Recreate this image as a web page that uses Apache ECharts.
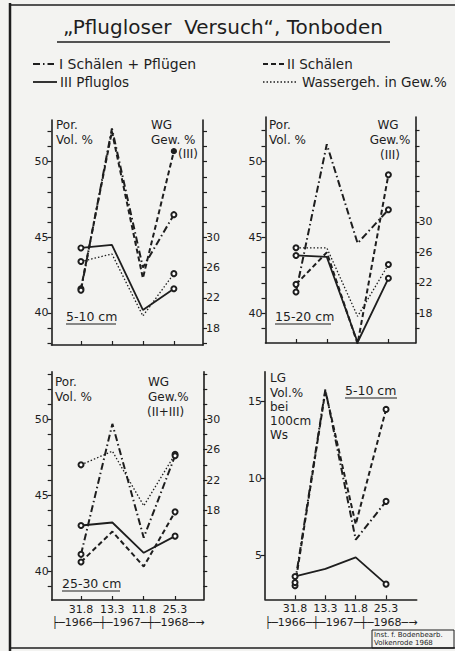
<!DOCTYPE html>
<html><head><meta charset="utf-8">
<script src="https://cdn.jsdelivr.net/npm/echarts@6/dist/echarts.min.js"></script>
<style>html,body{margin:0;padding:0;background:#f3f3f1}#c{width:455px;height:651px}</style>
</head><body><div id="c"></div>
<script>
// ---- data ----
const categories = ['31.8', '13.3', '11.8', '25.3'];
const yearRow = '├─1966─┼─1967─┼─1968─→';
// Panel 1: 5-10 cm (Por. Vol.% left, WG Gew.% right)
const p1_I   = [41.5, 52.2, 43.0, 46.5];
const p1_II  = [41.6, 52.0, 42.3, 50.7];
const p1_III = [44.3, 44.5, 40.2, 41.6];
const p1_WG  = [26.8, 27.8, 19.6, 25.2];
// Panel 2: 15-20 cm
const p2_I   = [41.4, 51.1, 44.6, 46.8];
const p2_II  = [41.9, 44.0, 38.0, 49.1];
const p2_III = [43.8, 43.7, 38.1, 42.3];
const p2_WG  = [26.6, 26.6, 17.6, 24.4];
// Panel 3: 25-30 cm
const p3_I   = [41.1, 49.7, 42.2, 47.6];
const p3_II  = [40.6, 42.6, 40.3, 43.9];
const p3_III = [43.0, 43.2, 41.2, 42.3];
const p3_WG  = [24.0, 25.8, 18.6, 25.4];
// Panel 4: LG Vol.% bei 100 cm Ws, 5-10 cm
const p4_I   = [3.2, 15.8, 6.0, 8.5];
const p4_II  = [3.0, 15.7, 7.0, 14.5];
const p4_III = [3.6, 4.1, 4.85, 3.1];

// ---- styles ----
const INK = '#1e1e1e';
const FONT = 'DejaVu Sans';
const styles = {
  I:   {type: [7, 3, 1.5, 3], width: 2},
  II:  {type: [5, 3], width: 2},
  III: {type: 'solid', width: 1.8},
  WG:  {type: [1.5, 2], width: 1.3}
};

function pts(arr, filledLast) {
  return arr.map((v, i) => {
    const end = (i === 0 || i === arr.length - 1);
    return {
      value: [i, v],
      symbol: end ? ((filledLast && i === arr.length - 1) ? 'circle' : 'emptyCircle') : 'none'
    };
  });
}
function ser(name, arr, xi, yi, key, filledLast) {
  return {
    name: name, type: 'line', xAxisIndex: xi, yAxisIndex: yi,
    data: pts(arr, filledLast), symbolSize: 5, silent: true, animation: false,
    lineStyle: {color: INK, width: styles[key].width, type: styles[key].type},
    itemStyle: {color: INK, borderColor: INK, borderWidth: 1.2}
  };
}
function range(a, b, s) { const r = []; for (let v = a; v <= b + 1e-9; v += s) r.push(v); return r; }

const grids = [
  {left: 51.5, top: 120, width: 151.5, height: 225},
  {left: 265.5, top: 117, width: 150, height: 226},
  {left: 51.7, top: 371.7, width: 151.6, height: 228.3},
  {left: 265, top: 371.7, width: 151.7, height: 227.6}
];
const xr = [[-0.95, 3.94], [-0.99, 3.88], [-0.935, 3.9], [-0.99, 4.01]];
const xAxes = grids.map((g, i) => ({
  type: 'value', gridIndex: i, min: xr[i][0], max: xr[i][1],
  axisLine: {show: true, onZero: false, lineStyle: {color: INK, width: 1.6}},
  splitLine: {show: false},
  axisTick: {show: true, inside: true, length: 4, customValues: [0, 1, 2, 3], lineStyle: {color: INK, width: 1.2}},
  axisLabel: {show: i >= 2, customValues: [0, 1, 2, 3], formatter: v => categories[Math.round(v)],
              color: INK, fontFamily: FONT, fontSize: 11, margin: 4}
}));
function yAx(gi, min, max, ticks, labels, pos) {
  return {
    type: 'value', gridIndex: gi, min: min, max: max, position: pos,
    axisLine: {show: true, onZero: false, lineStyle: {color: INK, width: 1.6}},
    splitLine: {show: false},
    axisTick: {show: true, length: 4, customValues: ticks, lineStyle: {color: INK, width: 1.2}},
    axisLabel: {customValues: labels, color: INK, fontFamily: FONT, fontSize: 11, margin: 3}
  };
}
const yAxes = [
  yAx(0, 37.88, 52.76, range(38, 52, 1), [40, 45, 50], 'left'),
  yAx(0, 15.76, 45.52, range(16, 44, 2), [18, 22, 26, 30], 'right'),
  yAx(1, 38.05, 52.89, range(39, 52, 1), [40, 45, 50], 'left'),
  yAx(1, 14.1, 43.78, range(16, 42, 2), [18, 22, 26, 30], 'right'),
  yAx(2, 38.09, 53.14, range(39, 53, 1), [40, 45, 50], 'left'),
  yAx(2, 6.18, 36.28, range(8, 36, 2), [18, 22, 26, 30], 'right'),
  yAx(3, 2.11, 16.96, [5, 10, 15], [5, 10, 15], 'left')
];

const series = [
  ser('WG', p1_WG, 0, 1, 'WG'), ser('III', p1_III, 0, 0, 'III'), ser('II', p1_II, 0, 0, 'II', true), ser('I', p1_I, 0, 0, 'I'),
  ser('WG', p2_WG, 1, 3, 'WG'), ser('III', p2_III, 1, 2, 'III'), ser('II', p2_II, 1, 2, 'II'), ser('I', p2_I, 1, 2, 'I'),
  ser('WG', p3_WG, 2, 5, 'WG'), ser('III', p3_III, 2, 4, 'III'), ser('II', p3_II, 2, 4, 'II'), ser('I', p3_I, 2, 4, 'I'),
  ser('III', p4_III, 3, 6, 'III'), ser('II', p4_II, 3, 6, 'II'), ser('I', p4_I, 3, 6, 'I')
];

function txt(x, y, s, size, align, extra) {
  return Object.assign({type: 'text', x: x, y: y, silent: true,
    style: {text: s, fill: INK, font: size + 'px "' + FONT + '"', textAlign: align || 'left', textVerticalAlign: 'middle'}}, extra || {});
}
function ln(x1, y1, x2, y2, w, dash) {
  return {type: 'line', silent: true, shape: {x1: x1, y1: y1, x2: x2, y2: y2},
    style: {stroke: INK, lineWidth: w, lineDash: dash || null}};
}
const graphics = [
  // frame
  ln(10, 3, 10, 651, 2.5), ln(10, 5, 455, 5, 1.5), ln(10, 648, 455, 648, 1.5),
  // title
  txt(223, 27, '„Pflugloser  Versuch“, Tonboden', 20, 'center'),
  ln(57, 42, 390, 42, 1.5),
  // legend
  ln(33, 64, 54, 64, 1.8, styles.I.type), txt(59, 64, 'I Schälen + Pflügen', 14),
  ln(263, 64, 286, 64, 1.8, styles.II.type), txt(287, 64, 'II Schälen', 13.5),
  ln(33, 82, 57, 82, 1.8), txt(60, 82, 'III Pfluglos', 13.5),
  ln(263, 82, 297, 82, 1.3, styles.WG.type), txt(302, 82, 'Wassergeh. in Gew.%', 13.5),
  // panel 1
  txt(56, 125, 'Por.', 12), txt(56, 140, 'Vol. %', 12),
  txt(151, 125, 'WG', 12), txt(151, 140, 'Gew. %', 12), txt(198, 154, '(III)', 12, 'right'),
  txt(66, 316, '5-10 cm', 12.5), ln(66, 324, 116, 324, 1.2),
  // panel 2
  txt(269, 125, 'Por.', 12), txt(269, 140, 'Vol. %', 12),
  txt(388, 125, 'WG', 12, 'center'), txt(390, 140, 'Gew.%', 12, 'center'), txt(390, 155, '(III)', 12, 'center'),
  txt(275, 316, '15-20 cm', 12.5), ln(275, 324, 331, 324, 1.2),
  // panel 3
  txt(55, 382, 'Por.', 12), txt(55, 397, 'Vol. %', 12),
  txt(148, 382, 'WG', 12), txt(148, 397, 'Gew.%', 12), txt(147, 412, '(II+III)', 12),
  txt(62, 583, '25-30 cm', 12.5), ln(62, 591, 120, 591, 1.2),
  // panel 4
  txt(270, 378, 'LG', 12), txt(270, 393, 'Vol.%', 12), txt(270, 407, 'bei', 12), txt(270, 421, '100cm', 12), txt(270, 435, 'Ws', 12),
  txt(345, 390, '5-10 cm', 12.5), ln(345, 398, 397, 398, 1.2),
  // year rows
  txt(128, 622, yearRow, 11, 'center'), txt(341, 622, yearRow, 11, 'center'),
  // stamp
  {type: 'rect', silent: true, shape: {x: 372, y: 630, width: 82, height: 18}, style: {fill: 'none', stroke: INK, lineWidth: 1}},
  txt(374, 634.5, 'Inst. f. Bodenbearb.', 7), txt(374, 642.5, 'Volkenrode 1968', 7)
];

const chart = echarts.init(document.getElementById('c'), null, {renderer: 'svg', width: 455, height: 651});
chart.setOption({
  backgroundColor: '#f3f3f1',
  animation: false,
  grid: grids,
  xAxis: xAxes,
  yAxis: yAxes,
  series: series,
  graphic: graphics
});
</script></body></html>
